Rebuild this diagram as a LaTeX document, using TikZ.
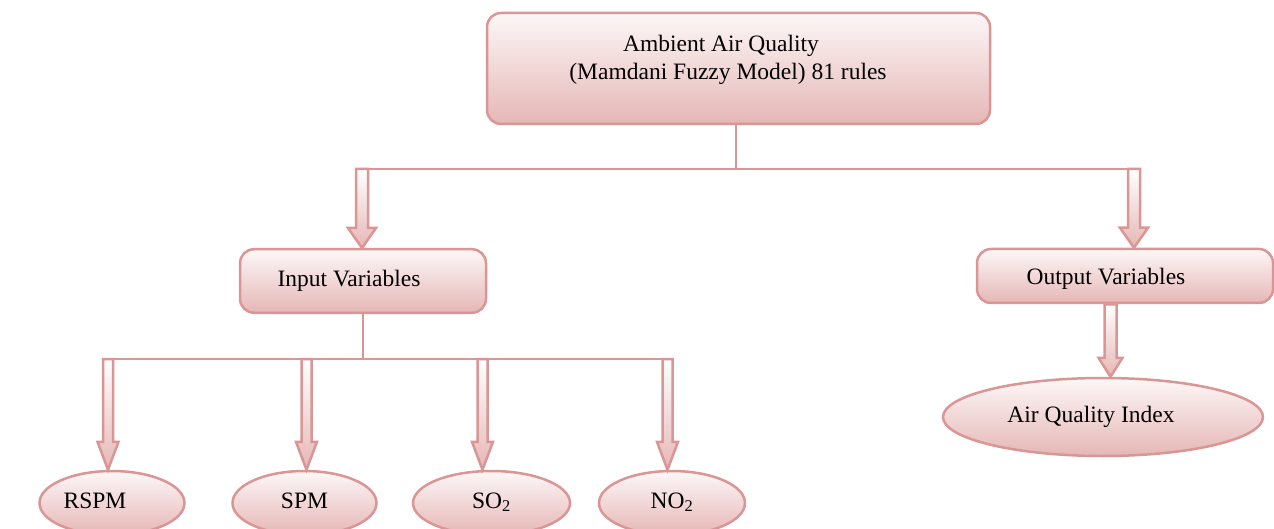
\documentclass[tikz,border=0pt]{standalone}
\usepackage{fontspec}
\setmainfont{Liberation Serif}
\usetikzlibrary{shapes.geometric,calc}
\definecolor{edge}{RGB}{217,150,148}
\definecolor{ftop}{RGB}{253,247,247}
\definecolor{fbot}{RGB}{229,183,182}
% block arrow: #1 start coordinate, #2 target anchor, #3 shaft half width, #4 head half width, #5 head length
\newcommand\blockarrow[5]{\path[barrow] let \p1=(#1), \p2=(#1 |- #2) in
  (\x1-#3,\y1) -- (\x1-#3,\y2+#5) -- (\x1-#4,\y2+#5) -- (\x2,\y2) --
  (\x1+#4,\y2+#5) -- (\x1+#3,\y2+#5) -- (\x1+#3,\y1) -- cycle;}
\newcommand\ovstrut{\rule[-6pt]{0pt}{22pt}}
\begin{document}
\begin{tikzpicture}[x=1pt,y=1pt,line width=2.5pt,
  txt/.style={font=\fontsize{23.5}{28}\selectfont, text=black},
  box/.style={txt, draw=edge, rounded corners=14pt, top color=ftop, bottom color=fbot, inner sep=0pt},
  oval/.style={txt, ellipse, draw=edge, top color=ftop, bottom color=fbot, inner sep=0pt},
  bus/.style={draw=edge},
  barrow/.style={draw=edge, top color=white, bottom color=fbot, line join=miter}]
\useasboundingbox (0,0) rectangle (1274,-529);

% boxes
\node[box, minimum width=503pt, minimum height=111pt, align=center] (top) at (738.5,-68.5)
  {Ambient Air Quality\hspace*{35pt}\\(Mamdani Fuzzy Model) 81 rules\hspace*{21pt}\rule[-22pt]{0pt}{22pt}};
\node[box, minimum width=246pt, minimum height=63.5pt] (inp) at (363,-281) {Input Variables\hspace*{28pt}};
\node[box, minimum width=296pt, minimum height=54pt] (out) at (1125,-276) {\rule{0pt}{23pt}Output Variables\hspace*{38pt}};

% ellipses
\node[oval, minimum width=320pt, minimum height=78pt] (aqi) at (1103,-417) {\ovstrut Air Quality Index\hspace*{24pt}};
\node[oval, minimum width=145pt, minimum height=64pt] (rspm) at (112,-503) {\ovstrut RSPM\hspace*{34pt}};
\node[oval, minimum width=144pt, minimum height=64pt] (spm) at (304.5,-503) {\ovstrut SPM};
\node[oval, minimum width=157pt, minimum height=64pt] (so2) at (491.5,-503) {\ovstrut SO\textsubscript{2}};
\node[oval, minimum width=146pt, minimum height=64pt] (no2) at (672,-503) {\ovstrut NO\textsubscript{2}};

% first level bus
\coordinate (b0) at (736,-169);
\coordinate (a1) at (362,-169);
\coordinate (a2) at (1134,-169);
\draw[bus] (top.south -| b0) -- (b0);
\draw[bus] (a1) -- (a2);
\blockarrow{a1}{inp.north}{6pt}{14pt}{20pt}
\blockarrow{a2}{out.north}{6pt}{14pt}{20pt}

% second level bus
\coordinate (c1) at (108,-359);
\coordinate (c2) at (306.5,-359);
\coordinate (c3) at (482.5,-359);
\coordinate (c4) at (667.5,-359);
\draw[bus] (inp.south) -- (inp.south |- c1);
\draw[bus] (c1) -- (c4);
\blockarrow{c1}{rspm.north}{5pt}{10.5pt}{28pt}
\blockarrow{c2}{spm.north}{5pt}{10.5pt}{28pt}
\blockarrow{c3}{so2.north}{5pt}{10.5pt}{28pt}
\blockarrow{c4}{no2.north}{5pt}{10.5pt}{28pt}

% output arrow
\coordinate (o1) at ($(out.south)+(-14.5,0)$);
\blockarrow{o1}{aqi.north}{6pt}{12pt}{19pt}
\end{tikzpicture}
\end{document}
